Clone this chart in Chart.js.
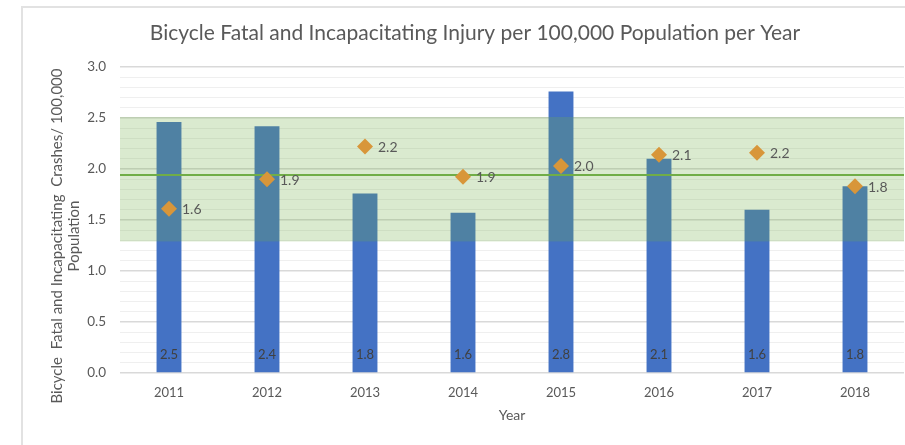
<!DOCTYPE html>
<html>
<head>
<meta charset="utf-8">
<script src="https://cdn.jsdelivr.net/npm/chart.js@4.4.0/dist/chart.umd.min.js"></script>
<style>
  body { margin: 0; background: #fff; overflow: hidden; width: 905px; height: 445px; position: relative; }
  #frame { position: absolute; left: 21px; top: 6px; width: 1000px; height: 1000px; border: 2px solid #E2E2E2; }
  #wrap { position: absolute; left: 0; top: 0; width: 912px; height: 445px; }
</style>
</head>
<body>
<div id="frame"></div>
<div id="wrap"><canvas id="chart"></canvas></div>
<script>
const years = ["2011", "2012", "2013", "2014", "2015", "2016", "2017", "2018"];
const crashRate = [2.46, 2.42, 1.76, 1.57, 2.76, 2.10, 1.60, 1.83];
const markerRate = [1.61, 1.90, 2.22, 1.925, 2.03, 2.14, 2.16, 1.83];
const meanRate = 1.94;
const bandLow = 1.29;
const bandHigh = 2.51;
const yTicks = [0, 0.5, 1.0, 1.5, 2.0, 2.5, 3.0];

const FONT = "Lato";
const chartTitle = "Bicycle Fatal and Incapacitating Injury per 100,000 Population per Year";
const yTitle = ["Bicycle  Fatal and Incapacitating  Crashes/ 100,000", "Population"];

function isMajor(v) {
    return yTicks.some(t => Math.abs(t - v) < 1e-6);
}

// band + mean line go right after the bars, so bars get tinted and diamonds stay on top
const bandPlugin = {
    id: "band",
    afterDatasetDraw: function (chart, args) {
        if (args.index !== 0) return;
        const ctx = chart.ctx;
        const area = chart.chartArea;
        const y = chart.scales.y;
        const top = y.getPixelForValue(bandHigh);
        const bottom = y.getPixelForValue(bandLow);
        ctx.save();
        ctx.fillStyle = "rgba(112, 173, 71, 0.26)";
        ctx.fillRect(area.left, top, area.right - area.left, bottom - top);
        const my = y.getPixelForValue(meanRate);
        ctx.strokeStyle = "#70AD47";
        ctx.lineWidth = 2;
        ctx.beginPath();
        ctx.moveTo(area.left, my);
        ctx.lineTo(area.right, my);
        ctx.stroke();
        ctx.restore();
    }
};

const labelPlugin = {
    id: "labels",
    afterDatasetsDraw: function (chart) {
        const ctx = chart.ctx;
        const y = chart.scales.y;
        ctx.save();
        // bar values at the base of each bar
        ctx.font = "13px " + FONT;
        ctx.fillStyle = "#404040";
        ctx.textAlign = "center";
        ctx.textBaseline = "middle";
        chart.getDatasetMeta(0).data.forEach((bar, i) => {
            ctx.fillText(crashRate[i].toFixed(1), bar.x, y.getPixelForValue(0) - 18);
        });
        // diamond values to the right
        ctx.font = "14px " + FONT;
        ctx.fillStyle = "#595959";
        ctx.textAlign = "left";
        chart.getDatasetMeta(1).data.forEach((pt, i) => {
            ctx.fillText(markerRate[i].toFixed(1), pt.x + 13, pt.y + 1);
        });
        ctx.restore();
    },
    afterDraw: function (chart) {
        const ctx = chart.ctx;
        ctx.save();
        ctx.fillStyle = "#595959";
        ctx.textAlign = "center";
        ctx.textBaseline = "middle";
        ctx.font = "21px " + FONT;
        ctx.fillText(chartTitle, 475, 33);
        ctx.font = "15px " + FONT;
        ctx.translate(57, 236);
        ctx.rotate(-Math.PI / 2);
        ctx.fillText(yTitle[0], 0, 0);
        ctx.fillText(yTitle[1], 0, 17);
        ctx.restore();
    }
};

const ctx = document.getElementById("chart").getContext("2d");
const chart = new Chart(ctx, {
    data: {
        labels: years,
        datasets: [
            {
                type: "bar",
                label: "Crash rate",
                data: crashRate,
                backgroundColor: "#4472C4",
                barPercentage: 0.254,
                categoryPercentage: 1.0,
                order: 2
            },
            {
                type: "line",
                label: "Marker",
                data: markerRate,
                showLine: false,
                pointStyle: "rectRot",
                pointRadius: 8,
                pointHoverRadius: 8,
                pointBackgroundColor: "#D8963A",
                pointBorderColor: "#D8963A",
                pointBorderWidth: 0,
                order: 1
            }
        ]
    },
    options: {
        responsive: true,
        maintainAspectRatio: false,
        animation: false,
        layout: { padding: { top: 67, right: 4, left: 0, bottom: 0 } },
        plugins: {
            legend: { display: false },
            tooltip: { enabled: false }
        },
        scales: {
            x: {
                grid: { display: false, drawTicks: false },
                border: { display: false },
                ticks: { color: "#595959", font: { family: FONT, size: 13 }, padding: 12 },
                title: { display: true, text: "Year", color: "#595959", font: { family: FONT, size: 14 }, padding: { top: 4, bottom: 21 } },
                afterFit: function (scale) { scale.height = 72; }
            },
            y: {
                min: 0,
                max: 3,
                ticks: {
                    stepSize: 0.1,
                    autoSkip: false,
                    color: "#595959",
                    font: { family: FONT, size: 13.5 },
                    padding: 14,
                    callback: function (v) { return isMajor(v) ? v.toFixed(1) : ""; }
                },
                grid: {
                    drawTicks: false,
                    color: function (c) { return isMajor(c.tick.value) ? "#D9D9D9" : "#EFEFEF"; },
                    lineWidth: function (c) { return isMajor(c.tick.value) ? 1.5 : 1; }
                },
                border: { display: false },
                afterFit: function (scale) { scale.width = 120; }
            }
        }
    },
    plugins: [bandPlugin, labelPlugin]
});
</script>
</body>
</html>
